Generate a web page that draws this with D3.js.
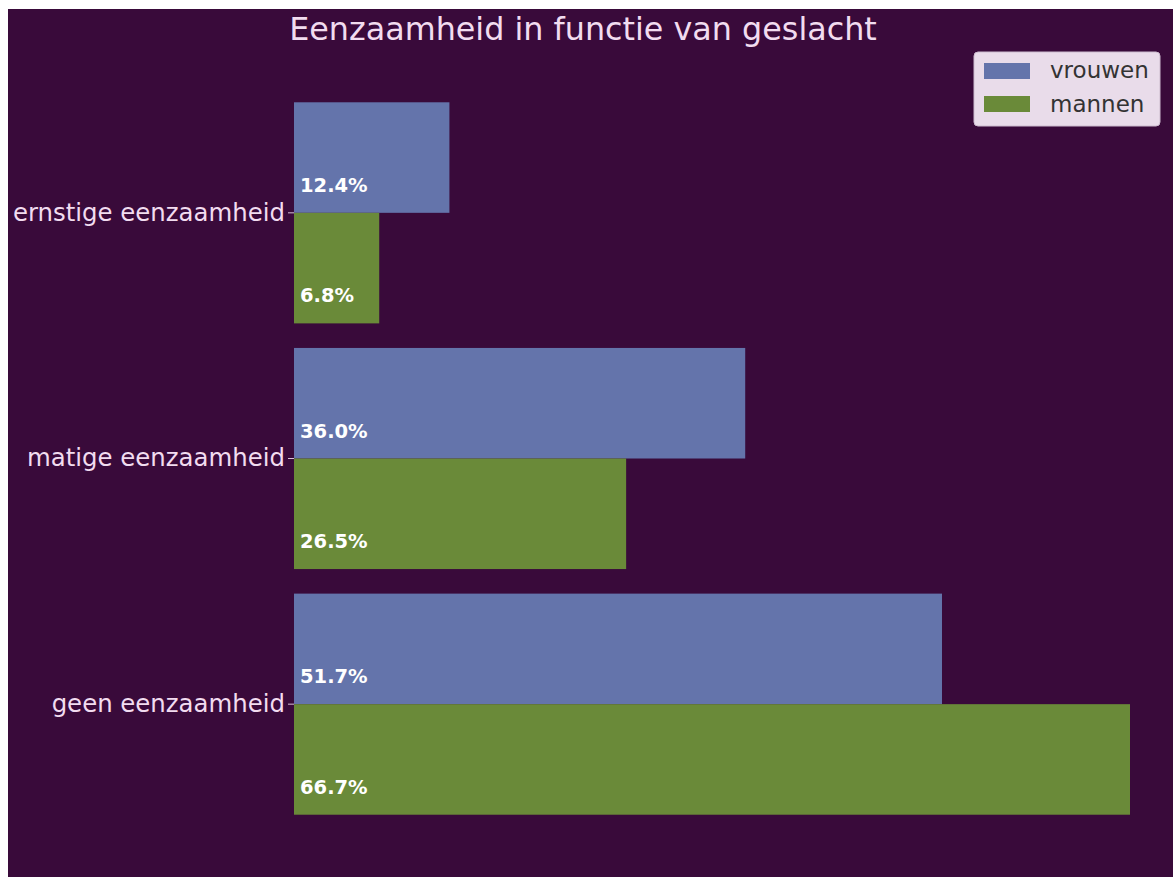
<!DOCTYPE html>
<html>
<head>
<meta charset="utf-8">
<script src="https://cdn.jsdelivr.net/npm/d3@7"></script>
<style>
  body { margin: 0; background: #ffffff; }
  svg { display: block; }
</style>
</head>
<body>
<svg id="chart" width="1173" height="877"></svg>
<script>
// data
var categories = ["ernstige eenzaamheid", "matige eenzaamheid", "geen eenzaamheid"];
var vrouwen = [12.4, 36.0, 51.7];
var mannen = [6.8, 26.5, 66.7];
var seriesNames = ["vrouwen", "mannen"];
var seriesColors = ["#6474ab", "#6a8a39"];

var svg = d3.select("#chart"),
    width = +svg.attr("width"),
    height = +svg.attr("height");

var bg = "#390a3a";
var textColor = "#f2dcf0";

svg.append("rect")
    .attr("x", 8).attr("y", 9)
    .attr("width", width - 8).attr("height", height - 9)
    .attr("fill", bg);

var x = d3.scaleLinear()
    .domain([0, 66.7])
    .range([294, 1130]);

var y = d3.scaleBand()
    .domain(categories)
    .range([90, 827])
    .paddingInner(0.1)
    .paddingOuter(0.05);

var series = [vrouwen, mannen];

var groups = svg.append("g");

series.forEach(function (vals, si) {
    var half = y.bandwidth() / 2;
    groups.selectAll(".bar" + si)
        .data(categories)
        .enter().append("rect")
        .attr("x", x(0))
        .attr("y", function (d) { return y(d) + si * half; })
        .attr("width", function (d, i) { return x(vals[i]) - x(0); })
        .attr("height", half)
        .attr("fill", seriesColors[si]);

    groups.selectAll(".lab" + si)
        .data(categories)
        .enter().append("text")
        .attr("x", x(0) + 6)
        .attr("y", function (d) { return y(d) + (si + 1) * half - 21; })
        .attr("fill", "#ffffff")
        .attr("font-family", "DejaVu Sans")
        .attr("font-weight", "bold")
        .attr("font-size", "19.5px")
        .text(function (d, i) { return vals[i].toFixed(1) + "%"; });
});

var yAxis = svg.append("g")
    .attr("transform", "translate(" + x(0) + ",0)")
    .call(d3.axisLeft(y).tickSize(6).tickPadding(3));

yAxis.select(".domain").remove();
yAxis.selectAll("line").attr("stroke", "#d8c0d8").attr("stroke-width", 1);
yAxis.selectAll("text")
    .attr("fill", textColor)
    .attr("font-family", "DejaVu Sans")
    .attr("font-size", "24.4px");

svg.append("text")
    .attr("x", 583)
    .attr("y", 40)
    .attr("text-anchor", "middle")
    .attr("fill", textColor)
    .attr("font-family", "DejaVu Sans")
    .attr("font-size", "31.8px")
    .text("Eenzaamheid in functie van geslacht");

// legend
var legend = svg.append("g").attr("transform", "translate(974,52)");
legend.append("rect")
    .attr("width", 186).attr("height", 74)
    .attr("rx", 4)
    .attr("fill", "#e9dcea")
    .attr("stroke", "#cdbccf");

seriesNames.forEach(function (name, i) {
    legend.append("rect")
        .attr("x", 10).attr("y", 11 + i * 33)
        .attr("width", 46).attr("height", 16)
        .attr("fill", seriesColors[i]);
    legend.append("text")
        .attr("x", 76).attr("y", 26 + i * 34)
        .attr("fill", "#333333")
        .attr("font-family", "DejaVu Sans")
        .attr("font-size", "23px")
        .text(name);
});
</script>
</body>
</html>
